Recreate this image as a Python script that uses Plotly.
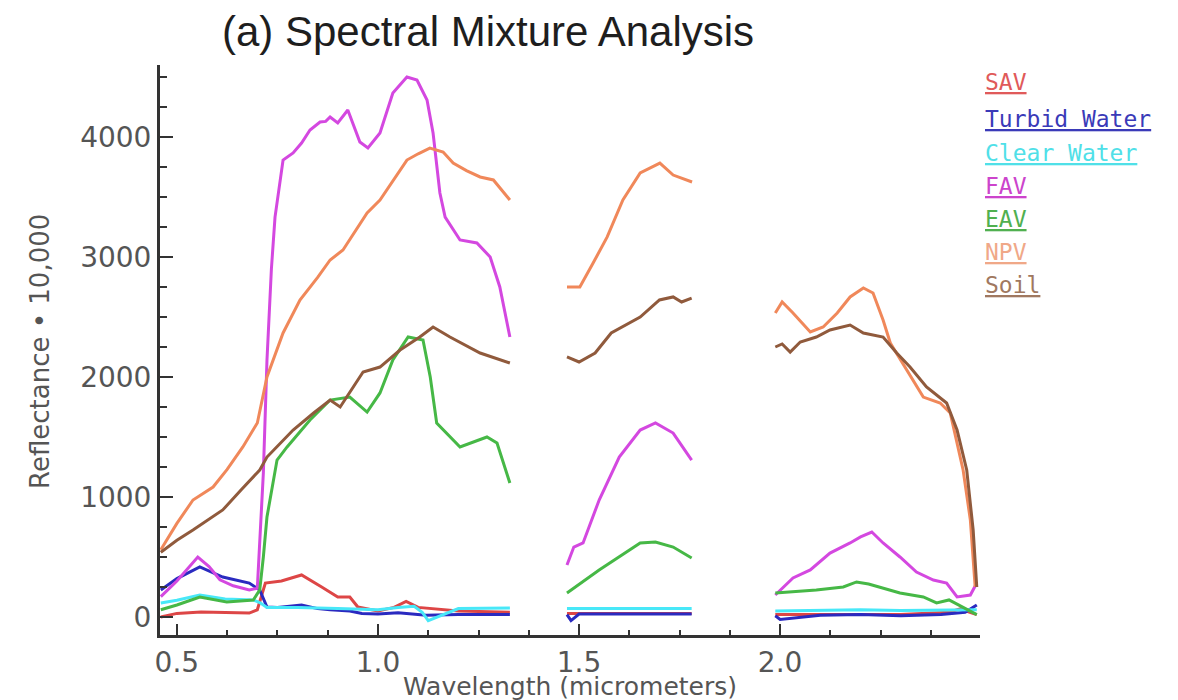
import plotly.graph_objects as go

# ---------------- data ----------------
GAP = None

sav_wl = [0.46, 0.50, 0.56, 0.62, 0.68, 0.70, 0.72, 0.76, 0.81, 0.86, 0.90, 0.93, 0.95, 1.0, 1.04, 1.07, 1.10, 1.2, 1.328,
          GAP, 1.47, 1.78,
          GAP, 1.988, 2.3, 2.42, 2.45, 2.47, 2.489]
sav_ref = [0, 30, 42, 40, 33, 60, 283, 300, 350, 250, 167, 167, 83, 50, 80, 130, 80, 50, 40,
           GAP, 30, 30,
           GAP, 20, 20, 40, 70, 40, 20]

turbid_wl = [0.46, 0.50, 0.557, 0.614, 0.68, 0.706, 0.724, 0.75, 0.81, 0.85, 0.881, 0.93, 0.96, 1.0, 1.05, 1.1, 1.12, 1.2, 1.328,
             GAP, 1.47, 1.48, 1.50, 1.60, 1.70, 1.78,
             GAP, 1.988, 2.0, 2.1, 2.2, 2.3, 2.4, 2.46, 2.489]
turbid_ref = [225, 320, 417, 333, 283, 225, 83, 80, 100, 70, 60, 50, 30, 25, 35, 20, 15, 20, 20,
              GAP, 20, -30, 25, 25, 25, 25,
              GAP, 10, -20, 15, 20, 10, 20, 40, 100]

clear_wl = [0.46, 0.50, 0.557, 0.62, 0.69, 0.706, 0.724, 0.8, 0.9, 1.0, 1.05, 1.09, 1.11, 1.125, 1.2, 1.328,
            GAP, 1.47, 1.6, 1.78,
            GAP, 1.988, 2.1, 2.2, 2.3, 2.4, 2.489]
clear_ref = [117, 140, 183, 150, 142, 120, 80, 80, 70, 60, 80, 90, 40, -30, 70, 75,
             GAP, 70, 70, 70,
             GAP, 50, 55, 60, 55, 60, 60]

fav_wl = [0.46, 0.50, 0.552, 0.58, 0.607, 0.64, 0.68, 0.70, 0.715, 0.724, 0.735, 0.744, 0.764, 0.789, 0.81, 0.831,
          0.856, 0.87, 0.881, 0.90, 0.925, 0.955, 0.975, 1.005, 1.037, 1.072, 1.097, 1.122, 1.137, 1.154, 1.167,
          1.204, 1.246, 1.279, 1.303, 1.328,
          GAP, 1.47, 1.487, 1.51, 1.55, 1.60, 1.652, 1.69, 1.734, 1.78,
          GAP, 1.988, 2.032, 2.075, 2.124, 2.174, 2.2, 2.228, 2.256, 2.298, 2.339, 2.381, 2.414, 2.44, 2.473, 2.489]
fav_ref = [170, 300, 500, 420, 310, 260, 225, 240, 1200, 2140, 2900, 3333, 3808, 3867, 3950, 4058,
           4125, 4130, 4167, 4117, 4225, 3958, 3908, 4033, 4367, 4500, 4475, 4308, 4033, 3533, 3333,
           3142, 3117, 3000, 2750, 2333,
           GAP, 433, 583, 617, 975, 1333, 1558, 1617, 1533, 1308,
           GAP, 183, 325, 392, 533, 617, 667, 708, 617, 500, 375, 308, 283, 167, 183, 283]

eav_wl = [0.46, 0.50, 0.557, 0.624, 0.69, 0.706, 0.715, 0.724, 0.749, 0.774, 0.831, 0.881, 0.93, 0.973, 1.005,
          1.037, 1.075, 1.112, 1.13, 1.146, 1.204, 1.271, 1.296, 1.328,
          GAP, 1.47, 1.55, 1.652, 1.69, 1.734, 1.78,
          GAP, 1.988, 2.09, 2.157, 2.19, 2.22, 2.256, 2.298, 2.356, 2.389, 2.42, 2.455, 2.489]
eav_ref = [60, 100, 167, 125, 142, 225, 500, 833, 1308, 1417, 1642, 1808, 1833, 1708, 1867,
           2142, 2333, 2308, 2000, 1617, 1417, 1500, 1450, 1117,
           GAP, 200, 392, 617, 625, 583, 492,
           GAP, 200, 225, 250, 292, 275, 242, 200, 167, 117, 142, 83, 20]

npv_wl = [0.46, 0.50, 0.54, 0.59, 0.625, 0.664, 0.70, 0.724, 0.764, 0.806, 0.85, 0.881, 0.913, 0.94, 0.973, 1.005,
          1.04, 1.072, 1.10, 1.129, 1.162, 1.187, 1.22, 1.254, 1.287, 1.328,
          GAP, 1.47, 1.502, 1.535, 1.57, 1.609, 1.652, 1.701, 1.734, 1.781,
          GAP, 1.988, 2.005, 2.032, 2.075, 2.107, 2.142, 2.174, 2.207, 2.231, 2.256, 2.274, 2.316, 2.356, 2.398,
          2.423, 2.455, 2.473, 2.485]
npv_ref = [560, 780, 975, 1083, 1230, 1417, 1617, 2000, 2367, 2642, 2830, 2975, 3058, 3200, 3367, 3475,
           3650, 3808, 3860, 3908, 3875, 3783, 3720, 3667, 3642, 3475,
           GAP, 2750, 2750, 2950, 3167, 3475, 3700, 3783, 3683, 3625,
           GAP, 2533, 2625, 2533, 2375, 2417, 2533, 2667, 2742, 2700, 2475, 2283, 2058, 1833, 1783,
           1700, 1225, 808, 250]

soil_wl = [0.46, 0.50, 0.54, 0.614, 0.66, 0.706, 0.724, 0.789, 0.84, 0.881, 0.906, 0.935, 0.963, 1.005, 1.055,
           1.104, 1.137, 1.179, 1.254, 1.328,
           GAP, 1.47, 1.50, 1.54, 1.58, 1.652, 1.70, 1.734, 1.755, 1.78,
           GAP, 1.988, 2.005, 2.025, 2.05, 2.09, 2.124, 2.174, 2.207, 2.256, 2.29, 2.323, 2.364, 2.414, 2.44,
           2.464, 2.48, 2.489]
soil_ref = [540, 640, 725, 892, 1060, 1225, 1333, 1558, 1700, 1808, 1750, 1900, 2042, 2083, 2225,
            2333, 2417, 2333, 2200, 2117,
            GAP, 2167, 2125, 2200, 2367, 2500, 2642, 2667, 2625, 2658,
            GAP, 2250, 2275, 2208, 2292, 2333, 2392, 2433, 2367, 2333, 2200, 2083, 1917, 1783, 1558,
            1225, 725, 250]

series_names = ["SAV", "Turbid Water", "Clear Water", "FAV", "EAV", "NPV", "Soil"]
series_wl = [sav_wl, turbid_wl, clear_wl, fav_wl, eav_wl, npv_wl, soil_wl]
series_ref = [sav_ref, turbid_ref, clear_ref, fav_ref, eav_ref, npv_ref, soil_ref]

x_ticks = [0.5, 1.0, 1.5, 2.0]
x_tick_labels = ["0.5", "1.0", "1.5", "2.0"]
y_ticks = [0, 1000, 2000, 3000, 4000]
y_tick_labels = ["0", "1000", "2000", "3000", "4000"]

# ---------------- styles ----------------
line_colors = ["#dd4646", "#2a2ac0", "#48e8f8", "#d448e0", "#46b846", "#f0885a", "#905a3c"]
label_colors = ["#e05a5a", "#3a3ab8", "#50e0e8", "#cc44cc", "#50b050", "#f0a888", "#a07860"]

OFF = 8                      # page body margin of the HTML page
W, H = 1178 - OFF, 700 - OFF
PL, PR, PT, PB = 160 - OFF, 980 - OFF, 65 - OFF, 635 - OFF   # plot-area box in figure pixels
PW, PH = PR - PL, PB - PT


def px_x(screen_x):
    return (screen_x - OFF - PL) / PW


def px_y(screen_y):
    return (PB - (screen_y - OFF)) / PH


fig = go.Figure()
for name, wl, ref, col in zip(series_names, series_wl, series_ref, line_colors):
    fig.add_trace(go.Scatter(x=wl, y=ref, mode="lines", name=name,
                             line=dict(color=col, width=3), connectgaps=False,
                             showlegend=False))

legend_y_px = [82, 119, 153, 186, 219, 252, 285]
for i, (name, col) in enumerate(zip(series_names, label_colors)):
    fig.add_annotation(text="<u>" + name + "</u>", xref="paper", yref="paper",
                       x=px_x(983), y=px_y(legend_y_px[i]),
                       xanchor="left", yanchor="middle", showarrow=False,
                       font=dict(family="DejaVu Sans Mono", size=23, color=col))

axis_title_font = dict(family="DejaVu Sans", size=25, color="#555555")
fig.add_annotation(text="Wavelength (micrometers)", xref="paper", yref="paper",
                   x=px_x(570), y=px_y(686), xanchor="center", yanchor="middle",
                   showarrow=False, borderpad=0, font=axis_title_font)
fig.add_annotation(text="Reflectance • 10,000", xref="paper", yref="paper", textangle=-90,
                   x=px_x(40), y=px_y(352), xanchor="center", yanchor="middle",
                   showarrow=False, font=dict(family="DejaVu Sans", size=26, color="#555555"))

tick_font = dict(family="DejaVu Sans", size=28, color="#555555")
fig.update_layout(
    width=W, height=H,
    paper_bgcolor="white", plot_bgcolor="white",
    margin=dict(l=PL, r=W - PR, t=PT, b=H - PB, autoexpand=False),
    title=dict(text="(a) Spectral Mixture Analysis", x=px_x(488), xref="paper",
               xanchor="center", y=1 - (31 - OFF) / H, yref="container", yanchor="middle",
               font=dict(family="Liberation Sans", size=42, color="#1e1e1e")),
    xaxis=dict(range=[0.458, 2.497], tickvals=x_ticks, ticktext=x_tick_labels, automargin=False,
               ticks="inside", ticklen=11, tickwidth=2, tickcolor="#333333",
               minor=dict(dtick=0.125, tick0=0.5, ticks="inside", ticklen=5, tickwidth=2, tickcolor="#333333"),
               showline=True, linewidth=3, linecolor="#333333", showgrid=False, zeroline=False,
               tickfont=tick_font),
    yaxis=dict(range=[-150, 4600], tickvals=y_ticks, ticktext=y_tick_labels, automargin=False,
               ticks="inside", ticklen=13, tickwidth=2, tickcolor="#333333",
               minor=dict(dtick=250, tick0=0, ticks="inside", ticklen=7, tickwidth=2, tickcolor="#333333"),
               showline=True, linewidth=3, linecolor="#333333", showgrid=False, zeroline=False,
               tickfont=tick_font),
)

fig.write_html("out.html")
